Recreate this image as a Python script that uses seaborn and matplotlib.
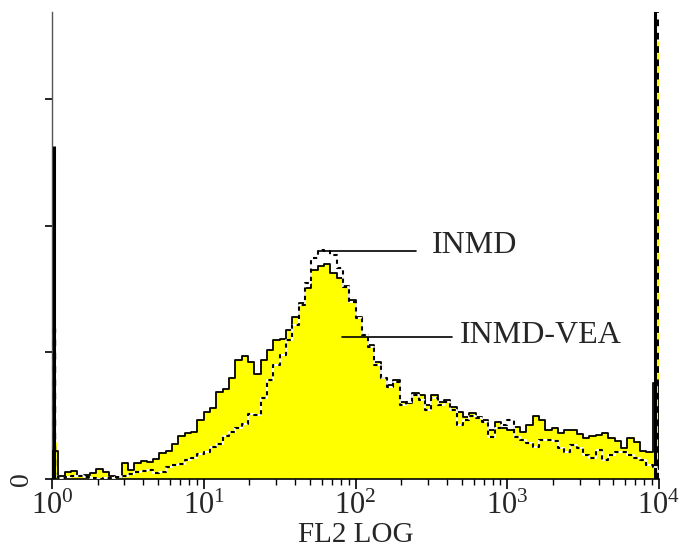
import numpy as np
import matplotlib
matplotlib.use("Agg")
import matplotlib.pyplot as plt
import seaborn as sns
from matplotlib.ticker import LogLocator, NullFormatter, FixedLocator

# ---- data (counts per 1/24-decade bin, FL2 from 10^0 to 10^4) ----
bins_per_decade = 24
n_decades = 4

inmd_vea_line = [11.0, 1.2, 2.8, 3.2, 1.2, 1.6, 2.4, 3.9, 2.8, 1.2, 0.8, 6.3, 3.6, 6.3, 7.1, 6.7,
                 7.9, 10.3, 11.0, 13.8, 17.0, 18.2, 18.5, 23.3, 26.4, 28.0, 34.3, 35.5, 39.9, 47.0, 48.5, 46.2,
                 41.4, 47.0, 50.9, 54.9, 55.2, 58.8, 63.9, 69.5, 75.4, 82.5, 84.1, 84.8, 81.3, 79.3, 76.2, 70.6,
                 63.9, 56.8, 52.9, 46.2, 39.9, 37.1, 39.1, 30.4, 30.0, 33.9, 33.1, 29.2, 33.1, 30.4, 31.2, 28.4,
                 26.4, 24.5, 26.0, 24.5, 23.3, 19.3, 22.5, 20.1, 19.3, 20.5, 18.5, 21.3, 24.9, 23.3, 19.3, 20.1,
                 18.2, 19.3, 19.3, 17.8, 16.2, 17.0, 17.4, 18.2, 16.2, 15.0, 12.2, 16.2, 14.6, 11.0, 10.7, 38.0]

inmd_vea_fill = [1.2] + inmd_vea_line[1:-1] + [12.0]

inmd = [1.2, 0.4, 0.8, 1.2, 1.2, 0.8, 0.4, 0.0, 0.4, 0.4, 0.8, 1.2, 2.0, 2.8, 3.2, 3.6,
        2.4, 2.8, 4.7, 5.5, 5.9, 7.5, 8.3, 9.9, 10.7, 12.6, 13.8, 17.0, 18.5, 20.1, 21.7, 25.7,
        25.3, 32.0, 39.1, 45.0, 48.9, 54.9, 60.8, 68.7, 77.3, 87.2, 90.4, 90.0, 88.4, 83.3, 75.8, 69.8,
        63.5, 56.8, 52.1, 45.0, 39.9, 36.3, 38.3, 29.2, 30.4, 33.1, 31.2, 27.2, 32.0, 29.2, 30.4, 27.2,
        21.3, 23.3, 24.9, 24.1, 22.5, 16.6, 20.1, 21.3, 23.3, 16.6, 15.4, 14.2, 12.6, 15.4, 15.4, 15.0,
        12.2, 10.7, 13.4, 12.2, 9.5, 8.3, 11.4, 7.5, 9.5, 10.7, 10.7, 9.5, 8.3, 7.5, 5.5, 4.7]

# pile-up events in the first / last channels (of 1024), counts
n_channels = 256 * n_decades
low_channel = {"line": 3, "fill": 3, "inmd": 4}
high_channel = {"line": 1018, "fill": 1021, "inmd": 1023}
low_pileup = {"line": 131.4, "fill": 14.6, "inmd": 59.6}
high_pileup = {"line": 250.0, "fill": 173.0, "inmd": 250.0}

x_tick_labels = [r"$\mathregular{10^{0}}$", r"$\mathregular{10^{1}}$", r"$\mathregular{10^{2}}$",
                 r"$\mathregular{10^{3}}$", r"$\mathregular{10^{4}}$"]
y_ticks = [0, 50, 100, 150]
y_tick_labels = ["0", "", "", ""]
x_label = "FL2 LOG"

# ---- figure ----
sns.set_style("white")
plt.rcParams["font.family"] = ["Liberation Serif", "DejaVu Serif"]
plt.rcParams["mathtext.fontset"] = "custom"
plt.rcParams["mathtext.rm"] = "Liberation Serif"

fig = plt.figure(figsize=(6.93, 5.54), dpi=100)
ax = fig.add_axes([52 / 693, 75 / 554, 607 / 693, 467 / 554])

n_bins = bins_per_decade * n_decades
edges = 10 ** (np.arange(n_bins + 1) / bins_per_decade)


def step_xy(counts):
    xs = np.concatenate([[edges[0]], edges, [edges[-1]]])
    ys = np.concatenate([[0.0], counts, [counts[-1]], [0.0]])
    return xs, ys[:len(xs)]


def chan_pos(c):
    return 10 ** (n_decades * c / n_channels)


# yellow filled histogram
fx, fy = step_xy(np.asarray(inmd_vea_fill))
ax.fill_between(fx, 0, fy, step="post", color="#FFFF00", linewidth=0, zorder=1)
for ch, cnt in ((low_channel["fill"], low_pileup["fill"]), (high_channel["fill"], high_pileup["fill"])):
    ax.vlines(chan_pos(ch), 0, cnt, color="#FFFF00", linewidth=3.5, zorder=1.5)

# solid outline
lx, ly = step_xy(np.asarray(inmd_vea_line))
sns.lineplot(x=lx, y=ly, ax=ax, color="black", linewidth=1.3, drawstyle="steps-post",
             sort=False, estimator=None, zorder=3)
for ch, cnt in ((low_channel["line"], low_pileup["line"]), (high_channel["line"], high_pileup["line"])):
    ax.vlines(chan_pos(ch), 0, cnt, color="black", linewidth=2.2, zorder=3)

# dashed (INMD): white under black dashes
dx, dy = step_xy(np.asarray(inmd))
sns.lineplot(x=dx, y=dy, ax=ax, color="white", linewidth=1.3, drawstyle="steps-post",
             sort=False, estimator=None, zorder=4)
sns.lineplot(x=dx, y=dy, ax=ax, color="black", linewidth=1.5, drawstyle="steps-post",
             sort=False, estimator=None, zorder=5, dashes=False, linestyle=(0, (2.0, 2.0)))
for ch, cnt in ((low_channel["inmd"], low_pileup["inmd"]), (high_channel["inmd"], high_pileup["inmd"])):
    ax.vlines(chan_pos(ch), 0, cnt, color="black", linewidth=2.4, zorder=5,
              linestyles=[(0, (2.0, 2.0))])

ax.set_xscale("log")
ax.set_xlim(1, 1e4)
ax.set_ylim(0, 184.3)

# axes styling
for s in ["top", "right"]:
    ax.spines[s].set_visible(False)
ax.spines["left"].set_color("#555555")
ax.spines["left"].set_linewidth(1.0)
ax.spines["bottom"].set_color("black")
ax.spines["bottom"].set_linewidth(1.2)

ax.xaxis.set_major_locator(FixedLocator([1, 10, 100, 1000, 10000]))
ax.set_xticklabels(x_tick_labels)
ax.xaxis.set_minor_locator(LogLocator(base=10, subs=np.arange(2, 10), numticks=20))
ax.xaxis.set_minor_formatter(NullFormatter())
ax.tick_params(axis="x", which="major", direction="out", length=7, width=1.2,
               labelsize=22, pad=2, bottom=True, color="black")
ax.tick_params(axis="x", which="minor", direction="out", length=4, width=1.0,
               bottom=True, color="black")

ax.set_yticks(y_ticks)
ax.set_yticklabels(y_tick_labels, rotation=90, va="center")
ax.tick_params(axis="y", which="major", direction="out", length=5, width=1.2,
               labelsize=20, pad=8, left=True, color="black")

ax.set_xlabel(x_label, fontsize=21, labelpad=1)
ax.set_ylabel("")
ax.grid(False)

# annotations
ax.plot([56.6, 250], [90, 90], color="black", linewidth=1.2, zorder=6)
ax.text(319, 92.3, "INMD", fontsize=23, va="center", ha="left")
ax.plot([81.5, 432], [56, 56], color="black", linewidth=1.2, zorder=6)
ax.text(489, 56.5, "INMD-VEA", fontsize=23, va="center", ha="left")

fig.savefig("out.png", dpi=100)
